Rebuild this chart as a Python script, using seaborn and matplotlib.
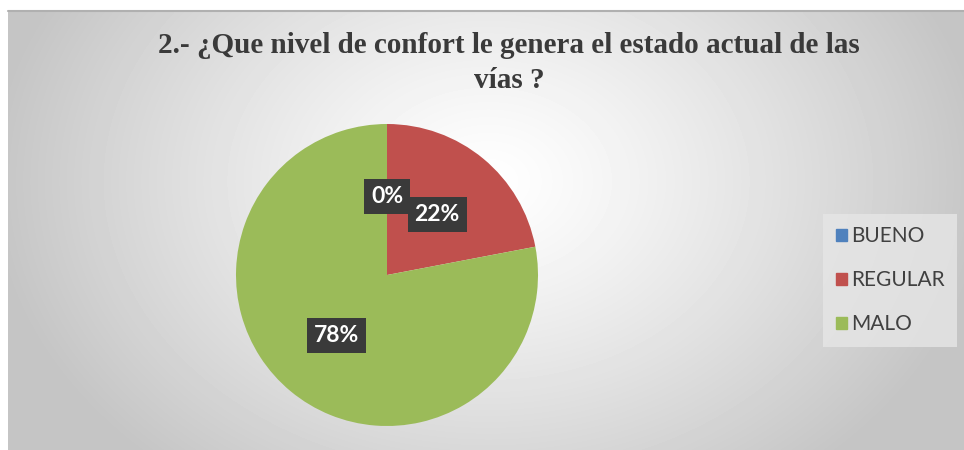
### DEPENDENCIES ###
import numpy as np
import matplotlib
matplotlib.use('Agg')
import matplotlib.pyplot as plt
import matplotlib.patches as mpatches
import seaborn as sns

### DATA ###
categories = ['BUENO', 'REGULAR', 'MALO']
values = [0, 22, 78]  # percentages
colors = ['#4F81BD', '#C0504D', '#9BBB59']
title = '2.- ¿Que nivel de confort le genera el estado actual de las\nvías ?'

sns.set_theme(style='white')
plt.rcParams['font.family'] = ['Lato', 'DejaVu Sans']

W, H = 964, 450
fig = plt.figure(figsize=(W / 100, H / 100), dpi=100)
fig.patch.set_facecolor('white')

# background panel with soft radial gradient (white centre -> light gray edges)
bg = fig.add_axes([8 / W, 0, 1 - 8 / W, 1 - 11 / H])
yy, xx = np.mgrid[0:439, 0:956]
d = np.sqrt(((xx - 480) / 500.0) ** 2 + ((yy - 170) / 380.0) ** 2)
shade = 1.0 - 0.23 * np.clip(d, 0, 1) ** 1.2
bg.imshow(shade, cmap='gray', vmin=0, vmax=1, aspect='auto')
bg.set_axis_off()
fig.add_artist(plt.Line2D([8 / W, 1], [1 - 11 / H, 1 - 11 / H], color='#b0b0b0', lw=1.5))

# pie
cx, cy, r = 387, 275, 151
ax = fig.add_axes([(cx - r) / W, (H - cy - r) / H, 2 * r / W, 2 * r / H])
wedges, texts, autotexts = ax.pie(values, colors=colors, startangle=90, counterclock=False,
                                  autopct='%.0f%%', pctdistance=0.52,
                                  wedgeprops=dict(linewidth=0))
for t in autotexts:
    t.set_color('white')
    t.set_fontsize(16.5)
    t.set_fontweight('bold')
    t.set_bbox(dict(boxstyle='square,pad=0.3', fc='#3a3a3a', ec='none'))
ax.set_xlim(-1, 1)
ax.set_ylim(-1, 1)
ax.set_aspect('equal')
ax.set_axis_off()

# title
fig.text(509 / W, 1 - 63 / H, title, ha='center', va='center', fontsize=21,
         fontweight='bold', family='Liberation Serif', color='#3a3a3a', linespacing=1.38)

# legend
handles = [mpatches.Patch(color=c, label=l) for c, l in zip(colors, categories)]
leg = fig.legend(handles=handles, loc='upper left', bbox_to_anchor=(823 / W, 1 - 214 / H),
                 fontsize=15, frameon=True, fancybox=False, labelspacing=1.15,
                 handlelength=0.55, handleheight=0.55, handletextpad=0.2,
                 borderpad=0.6, borderaxespad=0)
leg.get_frame().set_facecolor('#e6e6e6')
leg.get_frame().set_edgecolor('none')
for t in leg.get_texts():
    t.set_color('#404040')

plt.savefig('out.png', dpi=100)
